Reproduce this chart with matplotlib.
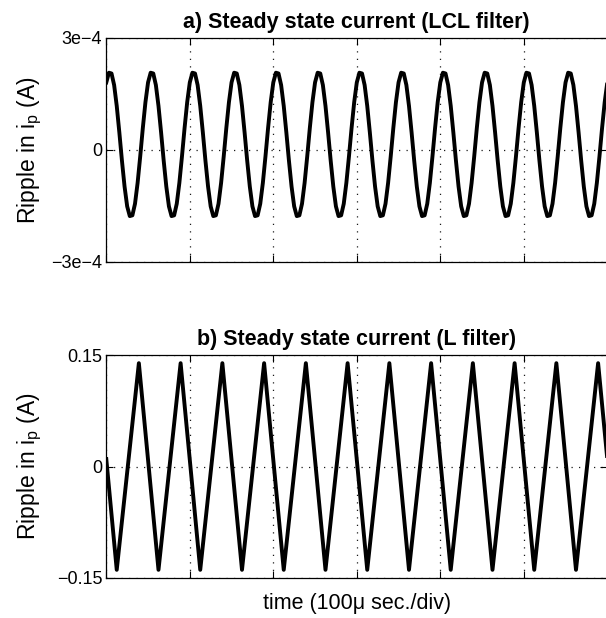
import numpy as np
import matplotlib
matplotlib.use("Agg")
import matplotlib.pyplot as plt

plt.rcParams['font.family'] = ['Liberation Sans', 'DejaVu Sans']
plt.rcParams['mathtext.fontset'] = 'custom'
plt.rcParams['mathtext.rm'] = 'Liberation Sans'
plt.rcParams['mathtext.it'] = 'Liberation Sans'

# ---------------- data ----------------
# (a) LCL filter ripple, in units of 1e-4 A, sampled every 1/32 division (100 us/div)
lcl_ripple_e4 = [
    1.81, 2.07, 2.05, 1.74, 1.18, 0.47, -0.29, -0.98, -1.51, -1.77, -1.75, -1.44, -0.88, -0.17, 0.59, 1.28,
    1.81, 2.07, 2.05, 1.74, 1.18, 0.47, -0.29, -0.98, -1.51, -1.77, -1.75, -1.44, -0.88, -0.17, 0.59, 1.28,
    1.81, 2.07, 2.05, 1.74, 1.18, 0.47, -0.29, -0.98, -1.51, -1.77, -1.75, -1.44, -0.88, -0.17, 0.59, 1.28,
    1.81, 2.07, 2.05, 1.74, 1.18, 0.47, -0.29, -0.98, -1.51, -1.77, -1.75, -1.44, -0.88, -0.17, 0.59, 1.28,
    1.81, 2.07, 2.05, 1.74, 1.18, 0.47, -0.29, -0.98, -1.51, -1.77, -1.75, -1.44, -0.88, -0.17, 0.59, 1.28,
    1.81, 2.07, 2.05, 1.74, 1.18, 0.47, -0.29, -0.98, -1.51, -1.77, -1.75, -1.44, -0.88, -0.17, 0.59, 1.28,
    1.81, 2.07, 2.05, 1.74, 1.18, 0.47, -0.29, -0.98, -1.51, -1.77, -1.75, -1.44, -0.88, -0.17, 0.59, 1.28,
    1.81, 2.07, 2.05, 1.74, 1.18, 0.47, -0.29, -0.98, -1.51, -1.77, -1.75, -1.44, -0.88, -0.17, 0.59, 1.28,
    1.81, 2.07, 2.05, 1.74, 1.18, 0.47, -0.29, -0.98, -1.51, -1.77, -1.75, -1.44, -0.88, -0.17, 0.59, 1.28,
    1.81, 2.07, 2.05, 1.74, 1.18, 0.47, -0.29, -0.98, -1.51, -1.77, -1.75, -1.44, -0.88, -0.17, 0.59, 1.28,
    1.81, 2.07, 2.05, 1.74, 1.18, 0.47, -0.29, -0.98, -1.51, -1.77, -1.75, -1.44, -0.88, -0.17, 0.59, 1.28,
    1.81, 2.07, 2.05, 1.74, 1.18, 0.47, -0.29, -0.98, -1.51, -1.77, -1.75, -1.44, -0.88, -0.17, 0.59, 1.28,
    1.81,
]
lcl_time_div = np.arange(len(lcl_ripple_e4)) / 32.0

# (b) L filter ripple (A): vertices of the triangular waveform
l_time_div = [0.0, 0.125, 0.39, 0.625, 0.89, 1.125, 1.39, 1.625, 1.89, 2.125, 2.39,
              2.625, 2.89, 3.125, 3.39, 3.625, 3.89, 4.125, 4.39, 4.625, 4.89,
              5.125, 5.39, 5.625, 5.89, 6.0]
l_ripple = [0.01, -0.139, 0.139, -0.139, 0.139, -0.139, 0.139, -0.139, 0.139, -0.139, 0.139,
            -0.139, 0.139, -0.139, 0.139, -0.139, 0.139, -0.139, 0.139, -0.139, 0.139,
            -0.139, 0.139, -0.139, 0.139, 0.01]

x_ticks = [0, 1, 2, 3, 4, 5, 6]
top_yticks = [-3e-4, 0, 3e-4]
top_ylabels = ['\u22123e\u22124', '0', '3e\u22124']
bot_yticks = [-0.15, 0, 0.15]
bot_ylabels = ['\u22120.15', '0', '0.15']

titles = ['a) Steady state current (LCL filter)', 'b) Steady state current (L filter)']
ylabel = r'Ripple in i$_{\mathrm{p}}$ (A)'
xlabel = 'time (100\u03bc sec./div)'

# ---------------- figure ----------------
W, H = 606, 618
fig = plt.figure(figsize=(W / 100, H / 100), dpi=100)
ax1 = fig.add_axes([106.3 / W, 1 - 262 / H, 501 / W, 224 / H])
ax2 = fig.add_axes([106.3 / W, 1 - 578 / H, 501 / W, 223 / H])

ax1.plot(lcl_time_div, np.array(lcl_ripple_e4) * 1e-4, color='black', lw=2.8,
         solid_joinstyle='round', zorder=3)
ax2.plot(l_time_div, l_ripple, color='black', lw=2.8, solid_joinstyle='round', zorder=3)

for ax, yt, yl, lim, title in [
    (ax1, top_yticks, top_ylabels, (-3e-4, 3e-4), titles[0]),
    (ax2, bot_yticks, bot_ylabels, (-0.15, 0.15), titles[1]),
]:
    ax.set_xlim(0, 6)
    ax.set_ylim(*lim)
    ax.set_xticks(x_ticks)
    ax.set_xticklabels([])
    ax.set_yticks(yt)
    ax.set_yticklabels(yl)
    ax.tick_params(direction='in', top=True, right=True, length=5, width=0.8,
                   labelsize=13, pad=3, color='black')
    ax.grid(True, linestyle=(0, (1, 5)), color='0.1', lw=0.9, zorder=1)
    for s in ax.spines.values():
        s.set_linewidth(0.9)
        s.set_color('black')
    ax.set_title(title, fontsize=15.5, fontweight='bold', pad=7)
    ax.set_ylabel(ylabel, fontsize=16.5, va='center')
    ax.yaxis.set_label_coords(-0.152, 0.5)

ax2.set_xlabel(xlabel, fontsize=15.5, labelpad=8)

fig.savefig('out.png', dpi=100)
